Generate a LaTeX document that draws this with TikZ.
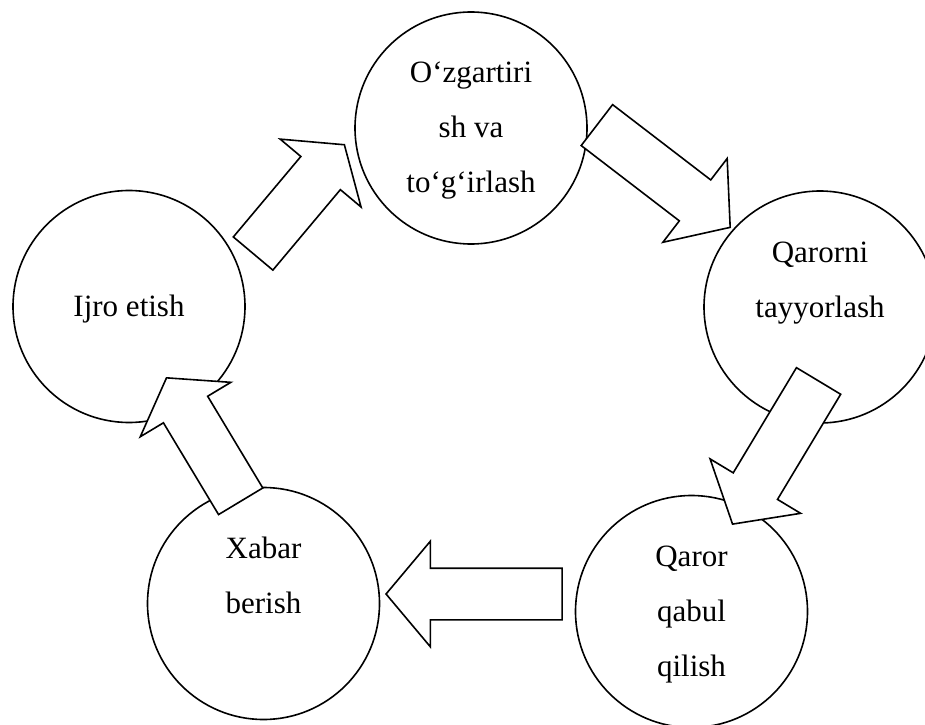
\documentclass[tikz,border=0pt]{standalone}
\usepackage{fontspec}
\setmainfont{Liberation Serif}
\usetikzlibrary{shapes.arrows}

\tikzset{
    stage/.style={circle,draw,line width=1.6pt,minimum size=232pt,inner sep=0pt},
    stagetext/.style={anchor=base,align=center,inner sep=0pt,font=\fontsize{31}{55}\selectfont},
    flow/.style={single arrow,draw,fill=white,line width=1.6pt,inner sep=25pt,
        minimum width=104pt,single arrow head extend=27pt,anchor=tip}
}

\begin{document}
\begin{tikzpicture}[x=1pt,y=1pt]
    \useasboundingbox (0,0) rectangle (925,724);
    \clip (0,0) rectangle (925,724);
    
    \node[stage] (ozgar) at (471,596) {};
    \node[stage] (tayyor) at (820,417) {};
    \node[stage] (qabul) at (691.5,112.5) {};
    \node[stage] (xabar) at (263.5,120.5) {};
    \node[stage] (ijro) at (129,417.5) {};
    
    \node[stagetext] (ozgarT) at ([yshift=-65pt]ozgar.center) {O‘zgartiri\\sh va\\to‘g‘irlash};
    \node[stagetext] (tayyorT) at ([yshift=-10pt]tayyor.center) {Qarorni\\tayyorlash};
    \node[stagetext] (qabulT) at ([yshift=-65pt]qabul.center) {Qaror\\qabul\\qilish};
    \node[stagetext] (xabarT) at ([yshift=-10pt]xabar.center) {Xabar\\berish};
    \node[stagetext] (ijroT) at ([yshift=-10pt]ijro.center) {Ijro etish};
    
    \node[flow,minimum height=142pt,single arrow tip angle=110,rotate=50] (ijroOzgar) at (345,580) {};
    \node[flow,minimum height=168pt,single arrow tip angle=100,rotate=-37.5] (ozgarTayyor) at (731,496) {};
    \node[flow,minimum height=167pt,single arrow tip angle=100,rotate=-121] (tayyorQabul) at (732,199) {};
    \node[flow,minimum height=176pt,single arrow tip angle=100,rotate=180] (qabulXabar) at (385,130) {};
    \node[flow,minimum height=144pt,single arrow tip angle=110,rotate=121] (xabarIjro) at (166,347) {};
    
\end{tikzpicture}
\end{document}
